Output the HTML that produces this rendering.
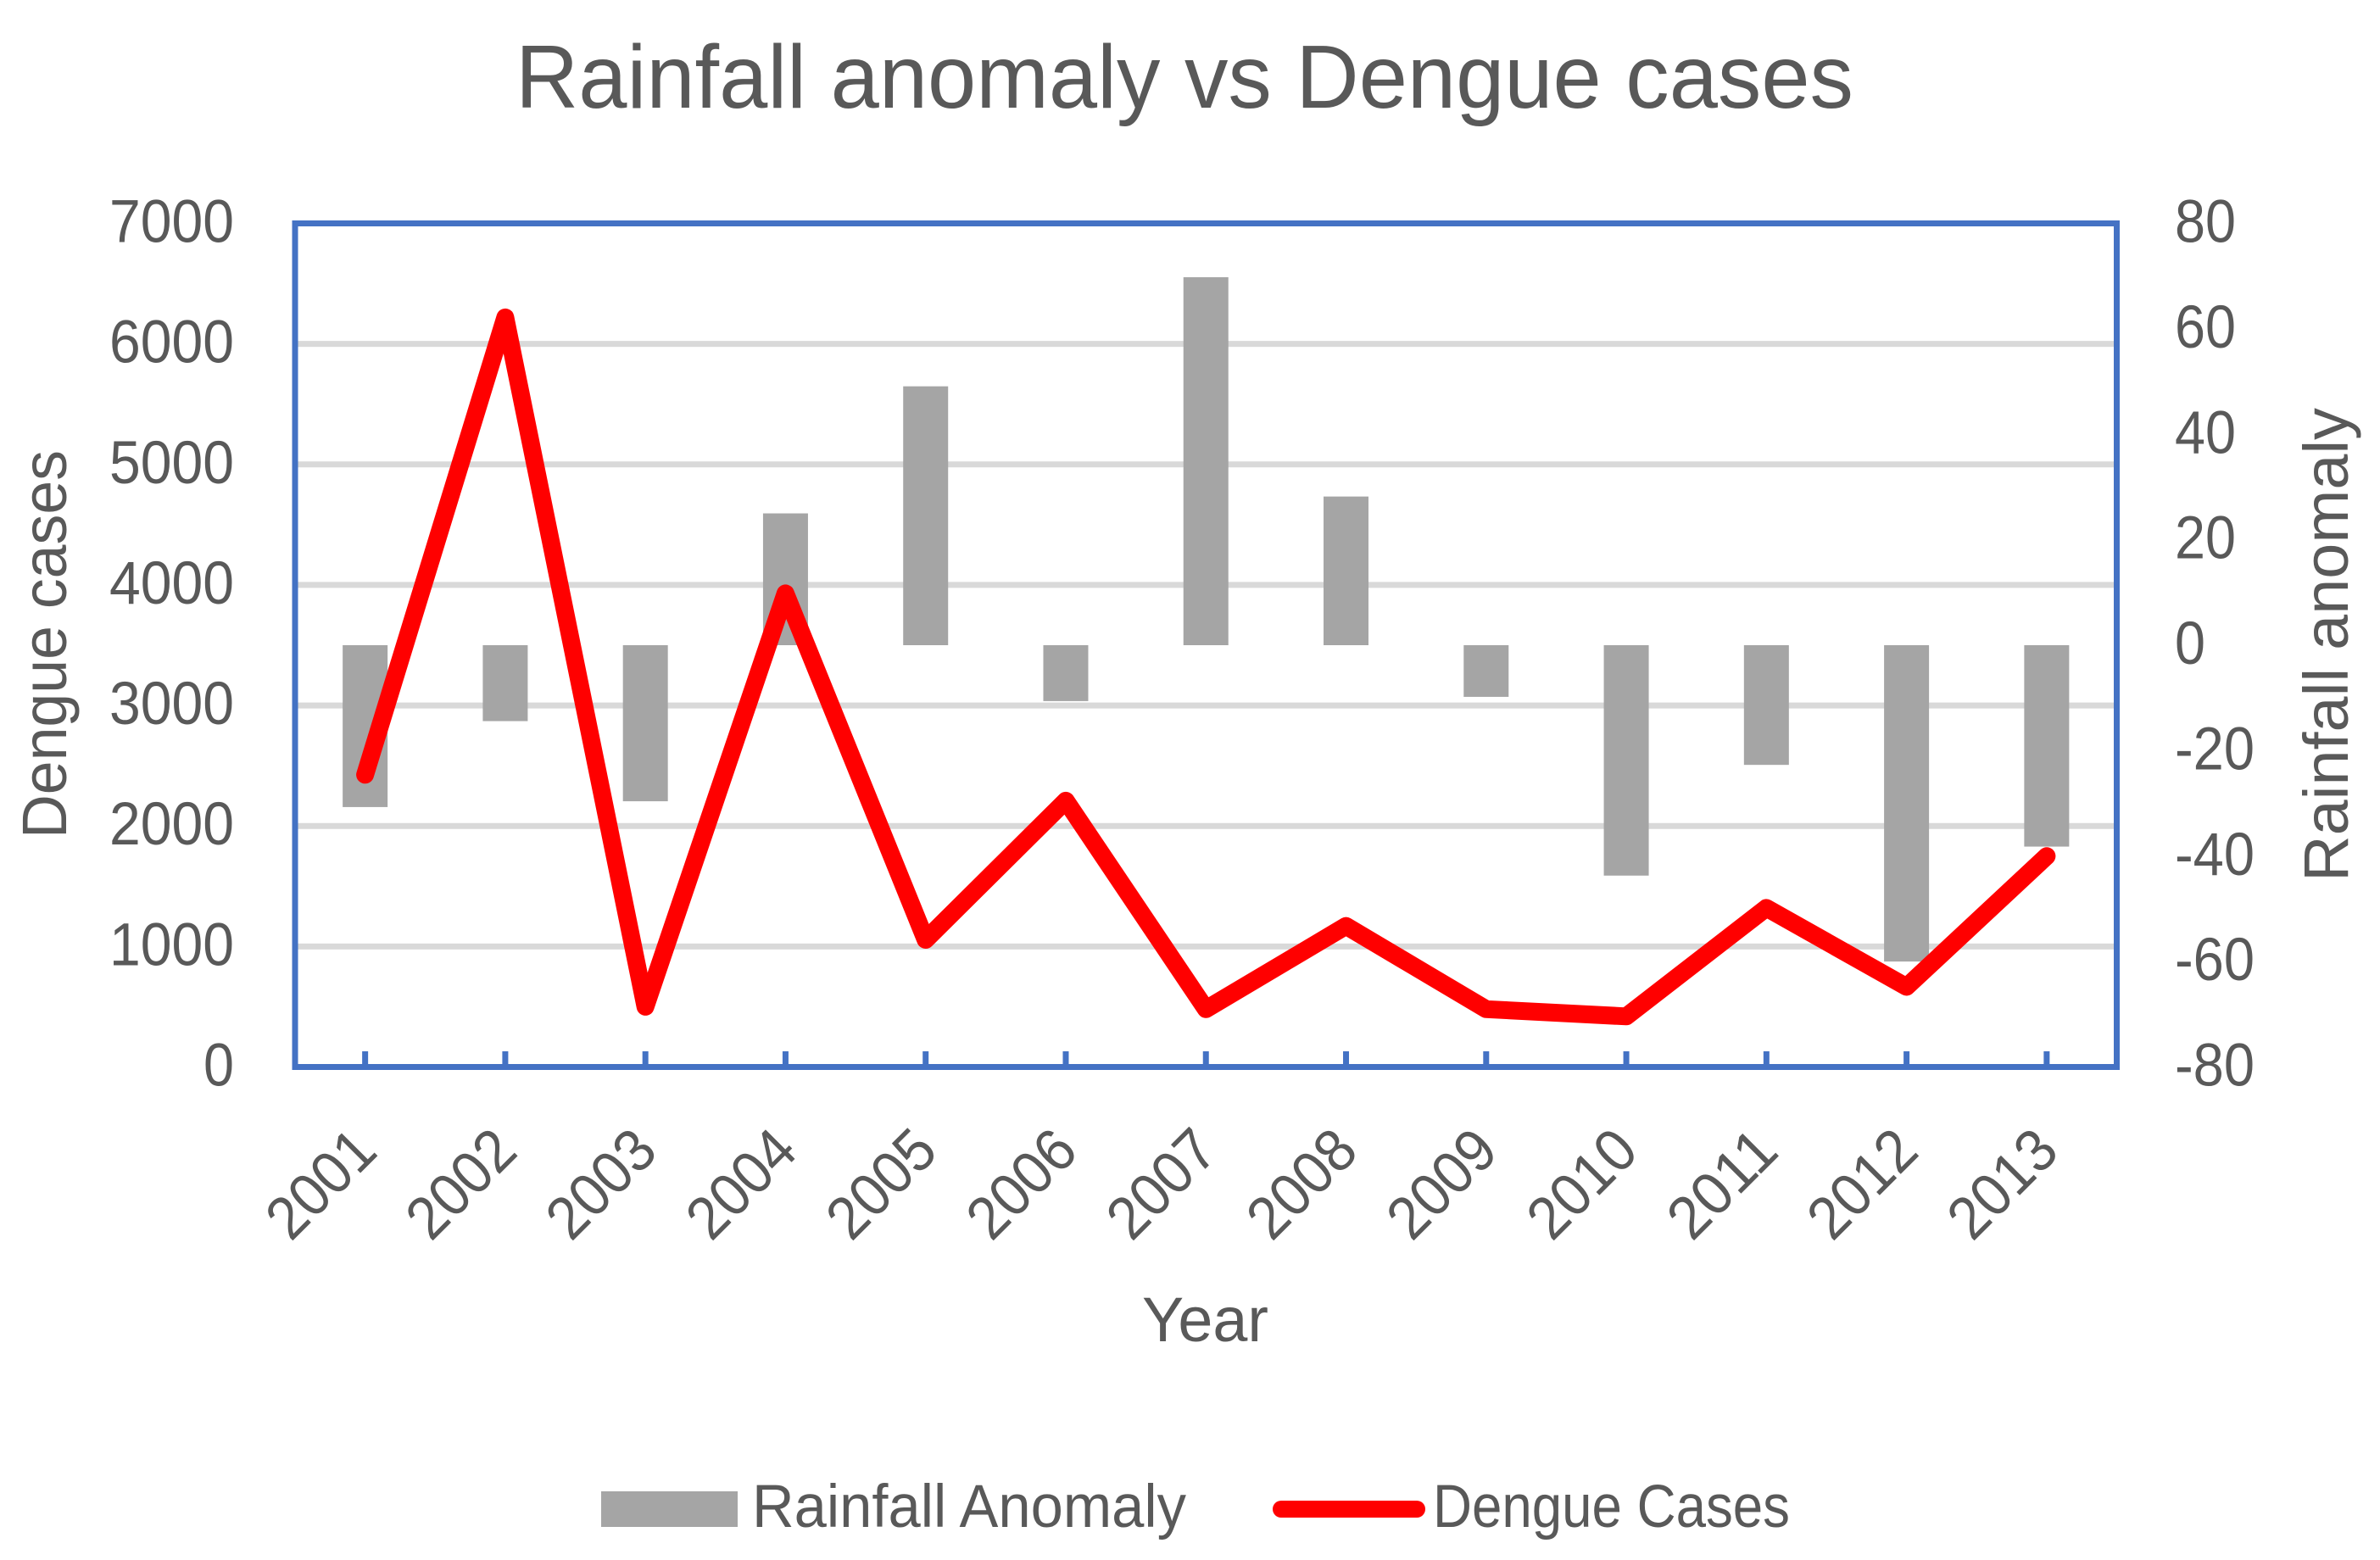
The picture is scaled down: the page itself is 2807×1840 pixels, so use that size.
<!DOCTYPE html>
<html lang="en">
<head>
<meta charset="utf-8">
<title>Rainfall anomaly vs Dengue cases</title>
<style>
html,body{margin:0;padding:0;background:#fff;}
svg{display:block;}
text{font-family:"Liberation Sans",sans-serif;fill:#595959;}
</style>
</head>
<body>
<svg id="chart" xmlns="http://www.w3.org/2000/svg" width="2807" height="1840" viewBox="0 0 2807 1840">
  <rect x="0" y="0" width="2807" height="1840" fill="#ffffff"/>
  <text x="608" y="127" font-size="106" textLength="1578" lengthAdjust="spacingAndGlyphs">Rainfall anomaly vs Dengue cases</text>
  <g id="grid"></g>
  <g id="bars"></g>
  <g id="frame"></g>
  <g id="line"></g>
  <g id="leftTicks"></g>
  <g id="rightTicks"></g>
  <g id="xTicks"></g>
  <text transform="translate(78,989) rotate(-90)" x="0" y="0" font-size="74" textLength="458" lengthAdjust="spacingAndGlyphs">Dengue cases</text>
  <text transform="translate(2769,1040) rotate(-90)" x="0" y="0" font-size="74" textLength="559" lengthAdjust="spacingAndGlyphs">Rainfall anomaly</text>
  <text x="1347" y="1582" font-size="74" textLength="149" lengthAdjust="spacingAndGlyphs">Year</text>
  <g>
    <g>
      <rect x="709" y="1759" width="161" height="42" fill="#a5a5a5"/>
      <text x="887" y="1801" font-size="71" textLength="512" lengthAdjust="spacingAndGlyphs">Rainfall Anomaly</text>
    </g>
    <g>
      <line x1="1511" y1="1780" x2="1671" y2="1780" stroke="#ff0000" stroke-width="20" stroke-linecap="round"/>
      <text x="1690" y="1801" font-size="71" textLength="421" lengthAdjust="spacingAndGlyphs">Dengue Cases</text>
    </g>
  </g>
</svg>
<script>
const years = ['2001','2002','2003','2004','2005','2006','2007','2008','2009','2010','2011','2012','2013'];
const rainfallAnomaly = [-30.7,-14.4,-29.6,25,49.1,-10.6,69.8,28.2,-9.8,-43.7,-22.7,-60,-38.2];
const dengueCases = [2425,6220,500,3930,1055,2210,480,1170,480,420,1320,665,1750];
const leftTickValues = [0,1000,2000,3000,4000,5000,6000,7000];
const rightTickValues = [-80,-60,-40,-20,0,20,40,60,80];

const NS = 'http://www.w3.org/2000/svg';
const plot = {left:348, right:2496.5, top:263.5, bottom:1258.5};
const leftMax = 7000;
const rightMin = -80;
const rightMax = 80;

function xScale(i){ return plot.left + (i + 0.5) * (plot.right - plot.left) / years.length; }
function yLeft(v){ return plot.bottom - (v / leftMax) * (plot.bottom - plot.top); }
function yRight(v){ return plot.bottom - ((v - rightMin) / (rightMax - rightMin)) * (plot.bottom - plot.top); }

function mk(tag, attrs, parent){
  const el = document.createElementNS(NS, tag);
  for (const k in attrs) el.setAttribute(k, attrs[k]);
  parent.appendChild(el);
  return el;
}
function labelWidth(s){
  let w = 0;
  for (const c of s) w += (c === '-') ? 22 : 36;
  return w;
}

const grid = document.getElementById('grid');
leftTickValues.forEach(function(v){
  if (v === 0 || v === leftMax) return;
  const g = mk('line', {x1:plot.left, x2:plot.right, y1:yLeft(v), y2:yLeft(v), stroke:'#d9d9d9', 'stroke-width':7}, grid);
  
  
});

const bars = document.getElementById('bars');
const barWidth = 53;
rainfallAnomaly.forEach(function(v, i){
  const y0 = yRight(0), y1 = yRight(v);
  const b = mk('rect', {x:xScale(i) - barWidth / 2, y:Math.min(y0, y1), width:barWidth, height:Math.abs(y1 - y0), fill:'#a5a5a5'}, bars);
  
  
});

const frame = document.getElementById('frame');
const border = mk('rect', {x:plot.left, y:plot.top, width:plot.right - plot.left, height:plot.bottom - plot.top, fill:'none', stroke:'#4472c4', 'stroke-width':7}, frame);


years.forEach(function(y, i){
  const t = mk('line', {x1:xScale(i), x2:xScale(i), y1:1240, y2:plot.bottom, stroke:'#4472c4', 'stroke-width':7}, frame);
  
  
});

const lineG = document.getElementById('line');
const pts = dengueCases.map(function(v, i){ return xScale(i).toFixed(1) + ',' + yLeft(v).toFixed(1); }).join(' ');
const poly = mk('polyline', {points:pts, fill:'none', stroke:'#ff0000', 'stroke-width':21, 'stroke-linecap':'round', 'stroke-linejoin':'round'}, lineG);



const leftTicks = document.getElementById('leftTicks');
leftTickValues.forEach(function(v){
  const s = String(v);
  const t = mk('text', {x:276, y:yLeft(v) + 22, 'font-size':71, 'text-anchor':'end', textLength:labelWidth(s) + (s.length === 4 ? 3 : 0), lengthAdjust:'spacingAndGlyphs'}, leftTicks);
  t.textContent = s;
  
  
});

const rightTicks = document.getElementById('rightTicks');
rightTickValues.forEach(function(v){
  const s = String(v);
  const t = mk('text', {x:2565, y:yRight(v) + 22, 'font-size':71, textLength:labelWidth(s), lengthAdjust:'spacingAndGlyphs'}, rightTicks);
  t.textContent = s;
  
  
});

const xTicks = document.getElementById('xTicks');
years.forEach(function(y, i){
  const ax = xScale(i) + 17, ay = 1361;
  const t = mk('text', {transform:'translate(' + ax + ',' + ay + ') rotate(-45)', x:0, y:0, 'font-size':71, 'text-anchor':'end', textLength:148, lengthAdjust:'spacingAndGlyphs'}, xTicks);
  t.textContent = y;
  
  
});
</script>
</body>
</html>
